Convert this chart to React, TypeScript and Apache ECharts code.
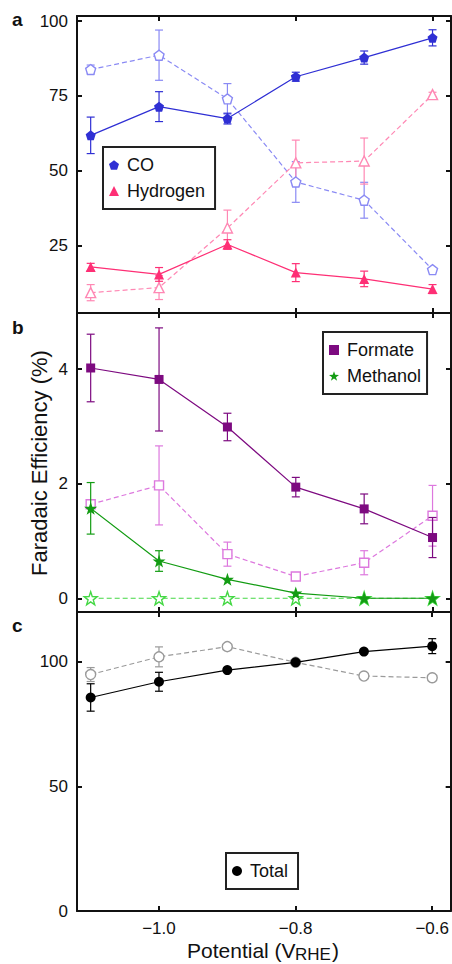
import React, { useEffect, useRef } from 'react';
import * as echarts from 'echarts';

// ---------- data ----------
const potentials = [-1.1, -1.0, -0.9, -0.8, -0.7, -0.6];
const xTicks = [-1.0, -0.8, -0.6];

// panel a
const coSolid = [61.8, 71.4, 67.4, 81.4, 87.8, 94.4];
const coSolidErr = [6.1, 5.0, 1.8, 1.5, 2.2, 2.7];
const coDashed = [83.8, 88.6, 74.0, 46.2, 40.1, 16.9];
const coDashedErr = [1.5, 8.4, 5.1, 6.8, 6.0, 0];
const h2Solid = [17.8, 15.3, 25.3, 15.9, 13.8, 10.4];
const h2SolidErr = [1.2, 2.3, 1.6, 3.0, 2.6, 1.5];
const h2Dashed = [9.2, 10.9, 30.8, 52.6, 53.2, 75.4];
const h2DashedErr = [2.7, 4.0, 6.0, 7.6, 7.7, 0.8];

// panel b
const formateSolid = [4.02, 3.82, 2.99, 1.94, 1.56, 1.06];
const formateSolidErr = [0.59, 0.9, 0.24, 0.17, 0.26, 0.35];
const formateDashed = [1.64, 1.97, 0.77, 0.38, 0.62, 1.44];
const formateDashedErr = [0, 0.69, 0.21, 0, 0.21, 0.53];
const methanolSolid = [1.57, 0.65, 0.33, 0.09, 0, 0];
const methanolSolidErr = [0.45, 0.18, 0, 0, 0, 0];
const methanolDashed = [0, 0, 0, 0, 0, 0];
const methanolDashedErr = [0, 0, 0, 0, 0, 0];

// panel c
const totalSolid = [85.7, 92.0, 96.7, 99.8, 104.1, 106.3];
const totalSolidErr = [5.5, 3.8, 0, 0, 0, 3.0];
const totalDashed = [94.9, 102.0, 106.1, 99.8, 94.3, 93.6];
const totalDashedErr = [2.8, 4.0, 0, 0, 0, 0];

// axes
const yMins = [2.4, -0.24, 0];
const yMaxs = [101.7, 4.98, 120];
const yTickValues = [[25, 50, 75, 100], [0, 2, 4], [0, 50, 100]];
const X_MIN = -1.12;
const X_MAX = -0.573;

// ---------- styling ----------
const FONT = '"Liberation Sans", Arial, Helvetica, sans-serif';
const INK = '#111';
const PENT = 'path://M0,-1L0.951,-0.309L0.588,0.809L-0.588,0.809L-0.951,-0.309Z';
const STAR =
  'path://M0,-1L0.235,-0.324L0.951,-0.309L0.38,0.124L0.588,0.809L0,0.4L-0.588,0.809L-0.38,0.124L-0.951,-0.309L-0.235,-0.324Z';

const C = {
  co: '#2f2fd4',
  coL: '#8a8af4',
  h2: '#fe2f75',
  h2L: '#ff88b4',
  fo: '#7d0a80',
  foL: '#dd78de',
  me: '#139c13',
  meL: '#44d844',
  to: '#000000',
  toL: '#9a9a9a',
};

const gridDefs = [
  { top: 16, height: 297 },
  { top: 313, height: 299 },
  { top: 612, height: 299 },
];

function fmt(v: number) {
  return v.toFixed(1).replace('-', '\u2212');
}

function lineSeries(
  name: string,
  g: number,
  values: number[],
  color: string,
  filled: boolean,
  symbol: string,
  size: number,
  dashed: boolean
) {
  return {
    type: 'line',
    name,
    xAxisIndex: 2 * g,
    yAxisIndex: 2 * g,
    data: potentials.map((x, i) => [x, values[i]]),
    symbol,
    symbolSize: size,
    showAllSymbol: true,
    lineStyle: { color, width: 1.2, type: dashed ? [5, 3] : 'solid' },
    itemStyle: filled
      ? { color, borderColor: color, borderWidth: 0 }
      : { color: '#ffffff', borderColor: color, borderWidth: 1.4 },
    z: dashed ? 3 : 5,
    silent: true,
    emphasis: { disabled: true },
  };
}

function errSeries(name: string, g: number, values: number[], errs: number[], color: string, dashed: boolean) {
  const data = potentials
    .map((x, i) => [x, values[i] - errs[i], values[i] + errs[i], errs[i]])
    .filter((d) => d[3] > 0);
  return {
    type: 'custom',
    name,
    xAxisIndex: 2 * g,
    yAxisIndex: 2 * g,
    data,
    encode: { x: 0, y: [1, 2] },
    z: dashed ? 2 : 4,
    silent: true,
    renderItem: (_params: any, api: any) => {
      const x = api.value(0);
      const lo = api.coord([x, api.value(1)]);
      const hi = api.coord([x, api.value(2)]);
      const w = 4;
      const st = { stroke: color, lineWidth: 1.2 };
      return {
        type: 'group',
        children: [
          { type: 'line', shape: { x1: lo[0], y1: lo[1], x2: hi[0], y2: hi[1] }, style: st },
          { type: 'line', shape: { x1: lo[0] - w, y1: lo[1], x2: lo[0] + w, y2: lo[1] }, style: st },
          { type: 'line', shape: { x1: hi[0] - w, y1: hi[1], x2: hi[0] + w, y2: hi[1] }, style: st },
        ],
      };
    },
  };
}

function buildOption() {
  const grid = gridDefs.map((g) => ({ left: 77, width: 374, top: g.top, height: g.height }));

  const xAxis: any[] = [];
  const yAxis: any[] = [];
  gridDefs.forEach((_, g) => {
    ['bottom', 'top'].forEach((pos) => {
      const showLabel = g === 2 && pos === 'bottom';
      xAxis.push({
        type: 'value',
        gridIndex: g,
        position: pos,
        min: X_MIN,
        max: X_MAX,
        axisLine: { show: true, onZero: false, lineStyle: { color: INK, width: 2 } },
        axisTick: {
          show: true,
          inside: true,
          length: 5,
          customValues: xTicks,
          lineStyle: { color: INK, width: 2 },
        },
        axisLabel: {
          show: showLabel,
          customValues: xTicks,
          formatter: (v: number) => fmt(v),
          fontSize: 17,
          fontFamily: FONT,
          color: INK,
          margin: 9,
        },
        splitLine: { show: false },
      });
    });
    ['left', 'right'].forEach((pos) => {
      const showLabel = pos === 'left';
      yAxis.push({
        type: 'value',
        gridIndex: g,
        position: pos,
        min: yMins[g],
        max: yMaxs[g],
        axisLine: { show: true, onZero: false, lineStyle: { color: INK, width: 2 } },
        axisTick: {
          show: true,
          inside: true,
          length: 5,
          customValues: yTickValues[g],
          lineStyle: { color: INK, width: 2 },
        },
        axisLabel: {
          show: showLabel,
          customValues: yTickValues[g],
          fontSize: 17,
          fontFamily: FONT,
          color: INK,
          margin: 9,
        },
        splitLine: { show: false },
      });
    });
  });

  const series: any[] = [
    // panel a
    errSeries('coDErr', 0, coDashed, coDashedErr, C.coL, true),
    errSeries('h2DErr', 0, h2Dashed, h2DashedErr, C.h2L, true),
    lineSeries('CO (alt)', 0, coDashed, C.coL, false, PENT, 10, true),
    lineSeries('Hydrogen (alt)', 0, h2Dashed, C.h2L, false, 'triangle', 10, true),
    errSeries('coSErr', 0, coSolid, coSolidErr, C.co, false),
    errSeries('h2SErr', 0, h2Solid, h2SolidErr, C.h2, false),
    lineSeries('CO', 0, coSolid, C.co, true, PENT, 10, false),
    lineSeries('Hydrogen', 0, h2Solid, C.h2, true, 'triangle', 10, false),
    // panel b
    errSeries('foDErr', 1, formateDashed, formateDashedErr, C.foL, true),
    errSeries('meDErr', 1, methanolDashed, methanolDashedErr, C.meL, true),
    lineSeries('Formate (alt)', 1, formateDashed, C.foL, false, 'rect', 9, true),
    lineSeries('Methanol (alt)', 1, methanolDashed, C.meL, false, STAR, 13, true),
    errSeries('foSErr', 1, formateSolid, formateSolidErr, C.fo, false),
    errSeries('meSErr', 1, methanolSolid, methanolSolidErr, C.me, false),
    lineSeries('Formate', 1, formateSolid, C.fo, true, 'rect', 9, false),
    lineSeries('Methanol', 1, methanolSolid, C.me, true, STAR, 13, false),
    // panel c
    errSeries('toDErr', 2, totalDashed, totalDashedErr, C.toL, true),
    lineSeries('Total (alt)', 2, totalDashed, C.toL, false, 'circle', 10, true),
    errSeries('toSErr', 2, totalSolid, totalSolidErr, C.to, false),
    lineSeries('Total', 2, totalSolid, C.to, true, 'circle', 10, false),
  ];

  const legendBase = {
    orient: 'vertical',
    borderColor: '#222',
    borderWidth: 2,
    itemWidth: 10,
    itemHeight: 10,
    itemGap: 8,
    selectedMode: false,
    textStyle: { fontSize: 18, color: INK, fontFamily: FONT, padding: [0, 0, 0, 3] },
  };

  const legend = [
    {
      ...legendBase,
      left: 103,
      top: 147,
      padding: [9, 10, 9, 6],
      data: [
        { name: 'CO', icon: PENT },
        { name: 'Hydrogen', icon: 'triangle' },
      ],
    },
    {
      ...legendBase,
      left: 323,
      top: 332,
      padding: [9, 6, 9, 6],
      data: [
        { name: 'Formate', icon: 'rect' },
        { name: 'Methanol', icon: STAR },
      ],
    },
    {
      ...legendBase,
      left: 226,
      top: 853,
      padding: [9, 10, 9, 6],
      data: [{ name: 'Total', icon: 'circle' }],
    },
  ];

  const letterFont = `bold 19px ${FONT}`;
  const graphic: any[] = [
    { type: 'text', x: 12, y: 19, style: { text: 'a', font: letterFont, fill: INK, verticalAlign: 'middle' } },
    { type: 'text', x: 12, y: 327, style: { text: 'b', font: letterFont, fill: INK, verticalAlign: 'middle' } },
    { type: 'text', x: 12, y: 625, style: { text: 'c', font: letterFont, fill: INK, verticalAlign: 'middle' } },
    {
      type: 'text',
      x: 39,
      y: 463,
      rotation: Math.PI / 2,
      style: {
        text: 'Faradaic Efficiency (%)',
        font: `22px ${FONT}`,
        fill: INK,
        align: 'center',
        verticalAlign: 'middle',
      },
    },
    {
      type: 'text',
      x: 187,
      y: 950,
      style: { text: 'Potential (V', font: `21px ${FONT}`, fill: INK, align: 'left', verticalAlign: 'middle' },
    },
    {
      type: 'text',
      x: 295,
      y: 954,
      style: { text: 'RHE', font: `17px ${FONT}`, fill: INK, align: 'left', verticalAlign: 'middle' },
    },
    {
      type: 'text',
      x: 332,
      y: 950,
      style: { text: ')', font: `21px ${FONT}`, fill: INK, align: 'left', verticalAlign: 'middle' },
    },
  ];

  return {
    animation: false,
    backgroundColor: '#ffffff',
    textStyle: { fontFamily: FONT },
    grid,
    xAxis,
    yAxis,
    legend,
    series,
    graphic,
  };
}

export default function App() {
  const ref = useRef<HTMLDivElement>(null);
  useEffect(() => {
    if (!ref.current) return;
    const chart = echarts.init(ref.current, undefined, { renderer: 'svg' });
    chart.setOption(buildOption() as any);
    return () => chart.dispose();
  }, []);
  return (
    <div
      ref={ref}
      style={{ position: 'fixed', left: 0, top: 0, width: 452, height: 964, background: '#fff' }}
    />
  );
}
